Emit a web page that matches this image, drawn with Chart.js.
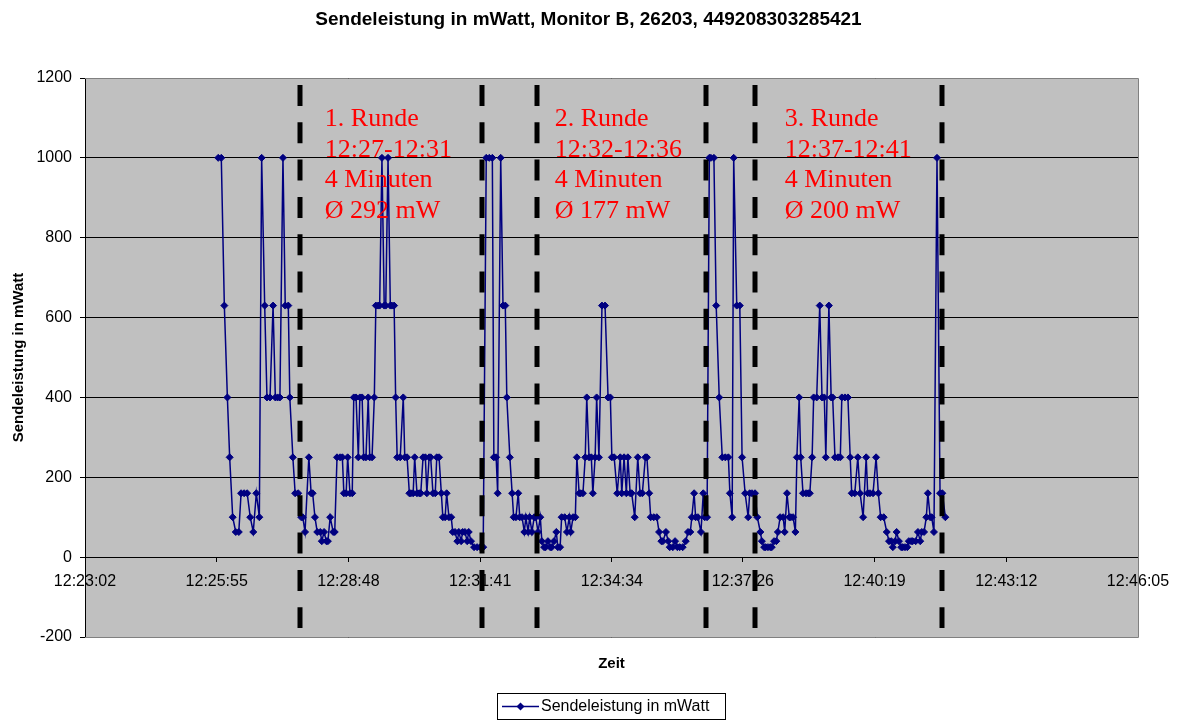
<!DOCTYPE html>
<html>
<head>
<meta charset="utf-8">
<script src="https://cdn.jsdelivr.net/npm/chart.js@4.4.1/dist/chart.umd.min.js"></script>
<style>
html,body{margin:0;padding:0;background:#ffffff;}
#wrap{width:1181px;height:722px;position:relative;}
</style>
</head>
<body>
<div id="wrap"><canvas id="c" width="1181" height="722"></canvas></div>
<script>
// ---------------- data ----------------
const chartTitle = "Sendeleistung in mWatt, Monitor B, 26203, 449208303285421";
const seriesName = "Sendeleistung in mWatt";
const xAxisTitle = "Zeit";
const yAxisTitle = "Sendeleistung in mWatt";
const startTime = "12:23:02";
const endTime = "12:46:05";
const timeTickLabels = ["12:23:02","12:25:55","12:28:48","12:31:41","12:34:34","12:37:26","12:40:19","12:43:12","12:46:05"];
const valueTicks = [-200, 0, 200, 400, 600, 800, 1000, 1200];

// seconds after startTime
const sampleSeconds = [
175,179,183,187,190,194,198,202,205,209,213,217,221,225,229,232,236,239,243,247,250,253,256,260,263,267,269,273,276,280,
284,286,289,294,297,299,302,305,309,311,314,317,319,322,326,328,331,335,338,340,343,345,348,351,353,356,359,361,364,366,369,372,374,377,380,382,385,387,390,393,395,398,401,403,406,408,410,414,418,420,423,
426,428,431,433,436,439,441,444,447,449,452,454,457,460,462,465,468,470,473,475,478,481,483,486,489,491,494,496,499,502,504,507,511,515,519,523,527,531,535,537,540,542,546,
549,552,554,558,561,563,566,569,571,574,577,579,582,584,587,590,592,595,598,600,603,605,608,611,613,616,619,621,624,626,630,633,636,638,641,644,646,649,651,
654,657,659,662,665,667,670,672,675,679,683,687,690,692,695,699,703,705,708,711,713,716,718,722,726,729,732,736,738,741,743,747,751,754,757,759,763,766,768,772,775,778,781,785,789,792,795,797,800,802,805,809,812,814,817,
820,822,826,829,833,837,841,845,847,850,852,856,860,863,867,871,873,876,880,883,887,889,892,894,897,900,902,905,908,910,913,917,919,922,925,927,930,933,935,938,940,943,947,950,952,
955,957,961,965,968,971,973,977,980,982,985,989,992,994,998,1002,1005,1007,1011,1015,1018,1022,1026,1028,1031,1035,1039,1042,1045,1049,1053,1056,1059,1061,1064,1066,1069,1072,1074,1077,1080,1082,1085,1087,1091,1094,1097,1099,1102,1105,1107,1110,1112,1115,1119,1123,1126,1130
];

// mW
const sampleValues = [
1000,1000,630,400,250,100,63,63,160,160,160,100,63,160,100,1000,630,400,400,630,400,400,400,1000,630,630,400,250,160,160,
100,100,63,250,160,160,100,63,63,40,63,40,40,100,63,63,250,250,250,160,160,250,160,160,400,400,250,400,400,250,250,400,250,250,400,630,630,630,1000,630,630,1000,630,630,630,400,250,250,400,250,250,
160,160,160,250,160,160,160,250,250,160,250,250,160,160,250,250,160,100,100,160,100,100,63,63,40,63,40,63,63,40,63,40,25,25,25,25,1000,1000,1000,250,250,160,1000,
630,630,400,250,160,100,100,160,100,100,63,100,63,100,63,100,100,63,100,40,25,25,40,25,25,40,63,25,25,100,100,63,100,63,100,100,250,160,160,
160,250,400,250,250,160,250,400,250,630,630,400,400,250,250,160,250,160,250,160,250,160,160,100,250,160,160,250,250,160,100,100,100,63,40,40,63,40,25,25,40,25,25,25,40,63,63,100,160,100,100,63,160,100,100,
1000,1000,1000,630,400,250,250,250,160,100,1000,630,630,250,160,100,160,160,160,100,63,40,25,25,25,25,25,40,40,63,100,100,63,160,100,100,100,63,250,400,250,160,160,160,160,
250,400,400,630,400,400,250,630,400,400,250,250,250,400,400,400,250,160,160,250,160,100,250,160,160,160,250,160,100,100,63,40,40,25,40,63,40,25,25,25,25,40,40,40,40,63,40,63,63,100,160,100,100,63,1000,160,160,100
];

// dashed round boundaries (seconds after startTime)
const roundBoundarySeconds = [282, 521, 594, 816, 880, 1126];
const roundNoteStartSeconds = [315, 617, 919];
const roundNoteTexts = [
  ["1. Runde", "12:27-12:31", "4 Minuten", "\u00D8 292 mW"],
  ["2. Runde", "12:32-12:36", "4 Minuten", "\u00D8 177 mW"],
  ["3. Runde", "12:37-12:41", "4 Minuten", "\u00D8 200 mW"]
];
const roundNoteTopValue = 1080;

// ---------------- helpers ----------------
function toSec(t){ const p = t.split(":").map(Number); return p[0]*3600 + p[1]*60 + p[2]; }
const t0 = toSec(startTime);
const tickSeconds = timeTickLabels.map(l => toSec(l) - t0);
const points = sampleSeconds.map((s, i) => ({x: s, y: sampleValues[i]}));

const SANS = "'Liberation Sans', Arial, sans-serif";
const SERIF = "'Liberation Serif', 'Times New Roman', serif";
const NAVY = "#000080";

const decorPlugin = {
  id: 'decor',
  beforeDraw(chart) {
    const {ctx, chartArea: a} = chart;
    ctx.save();
    ctx.fillStyle = '#ffffff';
    ctx.fillRect(0, 0, chart.width, chart.height);
    ctx.fillStyle = '#c0c0c0';
    ctx.fillRect(a.left, a.top, a.right - a.left, a.bottom - a.top);
    ctx.restore();
  },
  afterDraw(chart) {
    const {ctx, chartArea: a, scales} = chart;
    ctx.save();
    // plot border (top, right, bottom)
    ctx.strokeStyle = '#808080';
    ctx.lineWidth = 1;
    ctx.beginPath();
    ctx.moveTo(a.left, a.top + 0.5); ctx.lineTo(a.right + 0.5, a.top + 0.5);
    ctx.lineTo(a.right + 0.5, a.bottom + 0.5); ctx.lineTo(a.left, a.bottom + 0.5);
    ctx.stroke();
    // dashed round boundaries
    ctx.strokeStyle = '#000000';
    ctx.lineWidth = 5;
    ctx.lineCap = 'butt';
    ctx.setLineDash([21, 16.3]);
    roundBoundarySeconds.forEach(s => {
      const x = Math.round(scales.x.getPixelForValue(s));
      ctx.beginPath();
      ctx.moveTo(x, a.top + 7);
      ctx.lineTo(x, a.bottom - 9);
      ctx.stroke();
    });
    ctx.setLineDash([]);
    // round notes
    ctx.fillStyle = '#ff0000';
    ctx.font = "26px " + SERIF;
    ctx.textAlign = 'left';
    ctx.textBaseline = 'alphabetic';
    roundNoteTexts.forEach((lines, k) => {
      const x = scales.x.getPixelForValue(roundNoteStartSeconds[k]);
      const y0 = scales.y.getPixelForValue(roundNoteTopValue);
      lines.forEach((ln, j) => ctx.fillText(ln, x, y0 + j * 30.6));
    });
    // title
    ctx.fillStyle = '#000000';
    ctx.font = "bold 19px " + SANS;
    ctx.textAlign = 'center';
    ctx.textBaseline = 'middle';
    ctx.fillText(chartTitle, chart.width / 2 - 2, 20);
    // x axis title
    const cx = (a.left + a.right) / 2;
    ctx.font = "bold 15px " + SANS;
    ctx.fillText(xAxisTitle, cx, a.bottom + 27);
    // legend
    const lw = 228, lh = 26;
    const lx = Math.round(cx - lw / 2) - 1, ly = Math.round(a.bottom + 56);
    ctx.fillStyle = '#ffffff';
    ctx.fillRect(lx, ly, lw, lh);
    ctx.strokeStyle = '#000000';
    ctx.lineWidth = 1;
    ctx.strokeRect(lx + 0.5, ly + 0.5, lw, lh);
    const my = ly + lh / 2 + 0.5;
    ctx.strokeStyle = NAVY;
    ctx.lineWidth = 1.5;
    ctx.beginPath(); ctx.moveTo(lx + 5, my); ctx.lineTo(lx + 42, my); ctx.stroke();
    ctx.fillStyle = NAVY;
    ctx.beginPath();
    const dx = lx + 23.5, r = 4;
    ctx.moveTo(dx, my - r); ctx.lineTo(dx + r, my); ctx.lineTo(dx, my + r); ctx.lineTo(dx - r, my); ctx.closePath();
    ctx.fill();
    ctx.fillStyle = '#000000';
    ctx.font = "16px " + SANS;
    ctx.textAlign = 'left';
    ctx.textBaseline = 'middle';
    ctx.fillText(seriesName, lx + 44, my);
    ctx.restore();
  }
};

new Chart(document.getElementById('c'), {
  type: 'line',
  data: {
    datasets: [{
      label: seriesName,
      data: points,
      borderColor: NAVY,
      backgroundColor: NAVY,
      borderWidth: 1.5,
      pointStyle: 'rectRot',
      pointRadius: 3.5,
      pointBorderWidth: 1,
      pointBackgroundColor: NAVY,
      pointBorderColor: NAVY,
      tension: 0,
      fill: false
    }]
  },
  options: {
    responsive: false,
    animation: false,
    events: [],
    layout: { padding: { left: 0, top: 78, right: 43, bottom: 85 } },
    plugins: {
      legend: { display: false },
      title: { display: false },
      tooltip: { enabled: false }
    },
    scales: {
      x: {
        type: 'linear',
        position: { y: 0 },
        min: 0,
        max: toSec(endTime) - t0,
        afterBuildTicks: s => { s.ticks = tickSeconds.map(v => ({ value: v })); },
        ticks: {
          autoSkip: false,
          maxRotation: 0,
          minRotation: 0,
          padding: 11,
          color: '#000000',
          font: { family: SANS, size: 16 },
          callback: (v, i) => timeTickLabels[i]
        },
        grid: { drawOnChartArea: false, drawTicks: true, tickLength: 4, color: '#000000', lineWidth: 1 },
        border: { display: true, color: '#000000', width: 1 }
      },
      y: {
        min: valueTicks[0],
        max: valueTicks[valueTicks.length - 1],
        afterBuildTicks: s => { s.ticks = valueTicks.map(v => ({ value: v })); },
        afterFit: s => { s.width = 85; },
        ticks: {
          padding: 8,
          color: '#000000',
          font: { family: SANS, size: 16 },
          callback: v => String(v)
        },
        grid: { color: '#000000', lineWidth: 1, tickLength: 5, drawTicks: true },
        border: { display: true, color: '#000000', width: 1 },
        title: {
          display: true,
          text: yAxisTitle,
          color: '#000000',
          font: { family: SANS, size: 15, weight: 'bold' },
          padding: { top: 10, bottom: 0 }
        }
      }
    }
  },
  plugins: [decorPlugin]
});
</script>
</body>
</html>
